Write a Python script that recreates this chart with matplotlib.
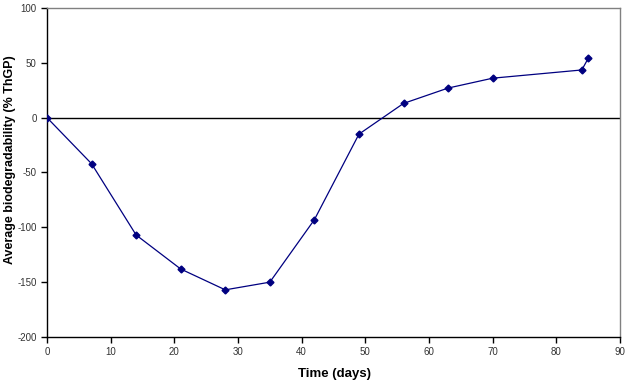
import matplotlib
matplotlib.use('Agg')
import matplotlib.pyplot as plt

plt.rcParams['font.family'] = ['Liberation Sans', 'DejaVu Sans']
plt.rcParams['axes.unicode_minus'] = False

days = [0, 7, 14, 21, 28, 35, 42, 49, 56, 63, 70, 84, 85]
biodeg = [0, -42, -107, -138, -157, -150, -93, -15, 13, 27, 36, 43.5, 54]

fig = plt.figure(figsize=(6.3, 3.83), dpi=100)
ax = fig.add_axes([47 / 630, 1 - 337 / 383, 573 / 630, 329 / 383])

ax.axhline(0, color='black', lw=1.0, zorder=1)
ax.plot(days, biodeg, color='#000080', lw=0.9, marker='D', ms=3.5,
        markerfacecolor='#000080', markeredgecolor='#000080', zorder=3)

ax.set_xlim(0, 90)
ax.set_ylim(-200, 100)
ax.set_xticks(range(0, 91, 10))
ax.set_yticks(range(-200, 101, 50))

ax.spines['left'].set_color('black')
ax.spines['bottom'].set_color('black')
ax.spines['top'].set_color('#808080')
ax.spines['right'].set_color('#808080')
for s in ax.spines.values():
    s.set_linewidth(1.0)

ax.tick_params(axis='both', direction='out', length=4, width=1,
               labelsize=7, labelcolor='#333333', color='black')

ax.set_xlabel('Time (days)', fontsize=9.5, fontweight='bold')
ax.set_ylabel('Average biodegradability (% ThGP)', fontsize=9,
              fontweight='bold')
# label positions in axes coords (pixel-matched to the reference)
ax.xaxis.set_label_coords((334 - 47) / 573, -(374 - 337) / 329)
ax.yaxis.set_label_coords(-(47 - 10) / 573, (337 - 160) / 329)
ax.xaxis.label.set_va('center')
ax.yaxis.label.set_va('center')

fig.savefig('out.png', dpi=100)
